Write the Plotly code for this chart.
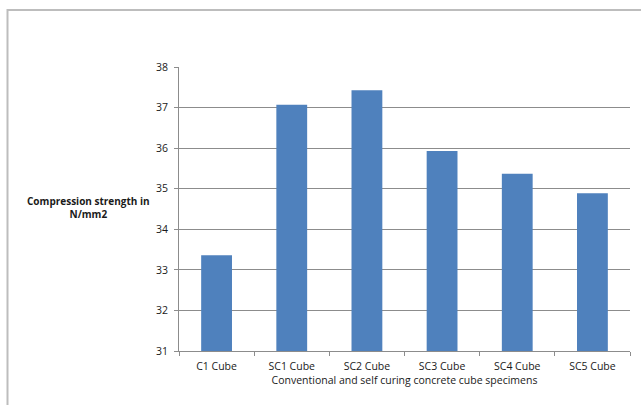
import plotly.graph_objects as go

# Compressive strength of conventional and self-curing concrete cubes
specimens = ["C1 Cube", "SC1 Cube", "SC2 Cube", "SC3 Cube", "SC4 Cube", "SC5 Cube"]
strength = [33.36, 37.07, 37.43, 35.93, 35.37, 34.89]
y_ticks = [31, 32, 33, 34, 35, 36, 37, 38]

W, H = 641, 405
L, R, T, B = 179, 11, 67, 54
pw, ph = W - L - R, H - T - B

def px(x):
    return (x - L) / pw

def py(y):
    return (H - B - y) / ph

font_family = "Open Sans, Liberation Sans, sans-serif"
text_color = "#1a1a1a"
line_color = "#8c8c8c"

fig = go.Figure(
    go.Bar(
        x=specimens,
        y=strength,
        marker=dict(color="#4F81BD", line=dict(width=0)),
        width=0.41,
    )
)

fig.update_layout(
    width=W,
    height=H,
    margin=dict(l=L, r=R, t=T, b=B),
    paper_bgcolor="white",
    plot_bgcolor="white",
    showlegend=False,
    font=dict(family=font_family, size=10, color=text_color),
    xaxis=dict(
        showline=True,
        linecolor=line_color,
        linewidth=1,
        ticks="outside",
        ticklen=4,
        tickcolor=line_color,
        tickson="boundaries",
        ticklabelstandoff=5,
        tickfont=dict(size=10.5, color=text_color),
        title=dict(
            text="Conventional and self curing concrete cube specimens",
            font=dict(size=10.5, color=text_color),
            standoff=3,
        ),
    ),
    yaxis=dict(
        range=[31, 38],
        tickvals=y_ticks,
        showline=True,
        linecolor=line_color,
        linewidth=1,
        ticks="outside",
        ticklen=4,
        tickcolor=line_color,
        ticklabelstandoff=4,
        showgrid=True,
        gridcolor=line_color,
        gridwidth=1,
        zeroline=False,
        tickfont=dict(size=10.5, color=text_color),
    ),
    annotations=[
        dict(
            text="<b>Compression strength in</b><br><b>N/mm2</b>",
            x=px(88),
            y=py(207),
            xref="paper",
            yref="paper",
            xanchor="center",
            yanchor="middle",
            showarrow=False,
            align="center",
            font=dict(size=10, color=text_color),
        )
    ],
    shapes=[
        # outer chart frame
        dict(
            type="rect",
            xref="paper",
            yref="paper",
            x0=px(7.5),
            x1=px(700),
            y0=py(460),
            y1=py(10),
            line=dict(color="#bdbdbd", width=2),
            fillcolor="rgba(0,0,0,0)",
            layer="below",
        )
    ],
)

fig.write_html("out.html")
